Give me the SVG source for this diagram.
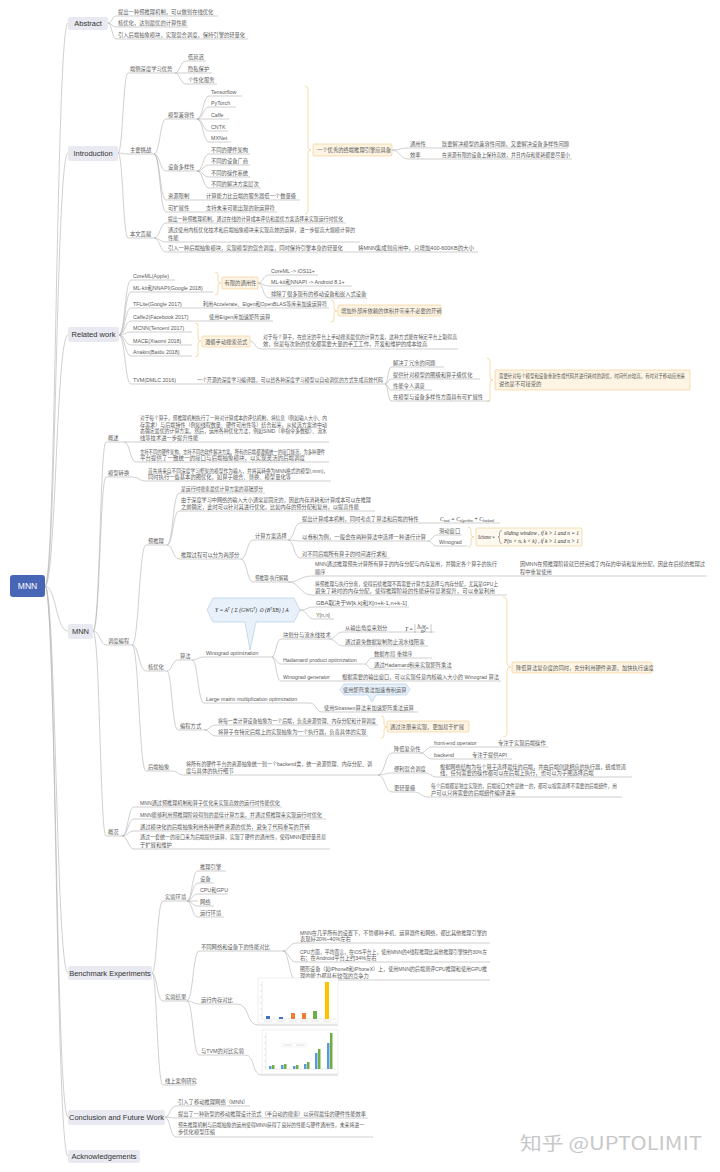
<svg xmlns="http://www.w3.org/2000/svg" width="720" height="1172" viewBox="0 0 720 1172">
<style>
.c{fill:none;stroke:#b0b0b0;stroke-width:0.6}
.u{fill:none;stroke:#b0b0b0;stroke-width:0.6}
.t{font-family:"Liberation Sans","Noto Sans CJK SC",sans-serif;font-size:5.3px;fill:#5a5a5a}
.h{font-family:"Liberation Sans","Noto Sans CJK SC",sans-serif;font-size:7.5px;fill:#333;text-anchor:middle}
.bx{fill:#e9eaf1}
.br{fill:none;stroke:#f0cf8e;stroke-width:0.7}
.co{fill:#fdf4e3;stroke:#f3c986;stroke-width:0.6}
.cb{fill:#e8f1fa;stroke:#a9c6e4;stroke-width:0.6}
.m{font-family:"Liberation Serif",serif;font-size:5.5px;fill:#333;font-style:italic}
.bar{stroke:none}
</style>
<rect width="720" height="1172" fill="#fff"/>

<g id="connectors">
<path class="c" d="M45 586C56 586 56 23 68 23M45 586C56 586 56 153 68 153M45 586C56 586 56 335 68 335M45 586C56 586 56 631 68 631M45 586C56 586 56 973 68 973M45 586C56 586 56 1117 68 1117M45 586C56 586 56 1156 68 1156"/>
<path class="c" d="M108 23C112 23 112 16 116 16M108 23C112 23 112 27 116 27M108 23C112 23 112 39 116 39"/>
<path class="c" d="M118 153C123 153 123 73 128 73M118 153C123 153 123 154 128 154M118 153C123 153 123 238 128 238"/>
<path class="c" d="M175 73C180 73 180 61 186 61M175 73H186M175 73C180 73 180 84 186 84"/>
<path class="c" d="M154 154C160 154 160 119 166 119M154 154C160 154 160 171 166 171M154 154C160 154 160 200 166 200M154 154C160 154 160 212 166 212"/>
<path class="c" d="M197 119C203 119 203 96 209 96M197 119C203 119 203 107 209 107M197 119H209M197 119C203 119 203 131 209 131M197 119C203 119 203 142 209 142"/>
<path class="c" d="M197 171C203 171 203 154 209 154M197 171C203 171 203 165 209 165M197 171C203 171 203 177 209 177M197 171C203 171 203 188 209 188"/>
<path class="c" d="M192 200H204M192 212H204"/>
<path class="c" d="M392 150C400 150 400 148 408 148M392 150C400 150 400 159 408 159M430 148H440M430 159H440"/>
<path class="c" d="M154 238C160 238 160 223 166 223M154 238C160 238 160 242 166 242M154 238C160 238 160 252 166 252M346 252H356"/>
<path class="c" d="M119 335C125 335 125 280 131 280M119 335C125 335 125 292 131 292M119 335C125 335 125 308 131 308M119 335C125 335 125 321 131 321M119 335C125 335 125 332 131 332M119 335C125 335 125 345 131 345M119 335C125 335 125 356 131 356M119 335C125 335 125 384 131 384"/>
<path class="c" d="M258 283C263 283 263 275 269 275M258 283C263 283 263 286 269 286M258 283C263 283 263 298 269 298"/>
<path class="c" d="M191 308H201M195 321H207M250 341C255 341 255 349 261 349M180 384H195"/>
<path class="c" d="M385 384C388 384 388 367 391 367M385 384C388 384 388 379 391 379M385 384C388 384 388 390 391 390M385 384C388 384 388 401 391 401"/>
<path class="c" d="M93 631C100 631 100 442 106 442M93 631C100 631 100 477 106 477M93 631C100 631 100 645 106 645M93 631C100 631 100 836 106 836"/>
<path class="c" d="M124 442H136M124 442C130 442 130 462 136 462M132 477C139 477 139 481 146 481"/>
<path class="c" d="M132 645C139 645 139 545 146 545M132 645C139 645 139 671 146 671M132 645C139 645 139 771 146 771"/>
<path class="c" d="M167 545C173 545 173 493 179 493M167 545C173 545 173 511 179 511M167 545C173 545 173 559 179 559"/>
<path class="c" d="M241 559C247 559 247 540 253 540M241 559C247 559 247 582 253 582"/>
<path class="c" d="M288 540C294 540 294 523 300 523M288 540C294 540 294 541 300 541M288 540C294 540 294 558 300 558"/>
<path class="c" d="M428 541C432 541 432 535 437 535M428 541C432 541 432 546 437 546"/>
<path class="c" d="M288 582C300 582 300 576 312 576M288 582C300 582 300 595 312 595M505 576H515"/>
<path class="c" d="M167 671C172 671 172 660 178 660M167 671C172 671 172 730 178 730"/>
<path class="c" d="M192 660C198 660 198 657 204 657M192 660C198 660 198 703 204 703"/>
<path class="c" d="M300 610C307 610 307 607 314 607M300 610C307 610 307 619 314 619"/>
<path class="c" d="M272 657C276 657 276 639 281 639M272 657C276 657 276 664 281 664M272 657C276 657 276 681 281 681"/>
<path class="c" d="M329 639C336 639 336 632 343 632M329 639C336 639 336 646 343 646"/>
<path class="c" d="M365 664C368 664 368 658 372 658M365 664C368 664 368 669 372 669M329 681H340"/>
<path class="c" d="M310 703C316 703 316 712 322 712"/>
<path class="c" d="M204 730C210 730 210 725 216 725M204 730C210 730 210 736 216 736"/>
<path class="c" d="M172 771C178 771 178 775 184 775"/>
<path class="c" d="M378 775C385 775 385 753 392 753M378 775C385 775 385 773 392 773M378 775C385 775 385 792 392 792"/>
<path class="c" d="M420 753C426 753 426 747 432 747M420 753C426 753 426 759 432 759M484 747H496M458 759H470M425 773C431 773 431 777 437 777M414 792C421 792 421 797 428 797"/>
<path class="c" d="M122 836C128 836 128 807 134 807M122 836C128 836 128 819 134 819M122 836C128 836 128 831 134 831M122 836C128 836 128 849 134 849"/>
<path class="c" d="M152 973C157 973 157 901 163 901M152 973C157 973 157 1001 163 1001M152 973C157 973 157 1085 163 1085"/>
<path class="c" d="M187 901C192 901 192 871 198 871M187 901C192 901 192 883 198 883M187 901C192 901 192 894 198 894M187 901H198M187 901C192 901 192 906 198 906M187 901C192 901 192 917 198 917"/>
<path class="c" d="M187 1001C193 1001 193 951 199 951M187 1001C193 1001 193 1004 199 1004M187 1001C193 1001 193 1055 199 1055"/>
<path class="c" d="M283 951C289 951 289 943 296 943M283 951C289 951 289 962 296 962M283 951C289 951 289 980 296 980"/>
<path class="c" d="M237 1004C250 1004 246 1025 258 1025H338M245 1055C256 1055 251 1075 262 1075H338"/>
<path class="c" d="M165 1117C170 1117 170 1106 176 1106M165 1117C170 1117 170 1118 176 1118M165 1117C170 1117 170 1137 176 1137"/>
<path class="br" d="M305 86Q308 86 308 90V147Q308 150 311 150Q308 150 308 153V210Q308 214 305 214"/>
<path class="br" d="M215 272Q218 272 218 275V280Q218 283 221 283Q218 283 218 286V292Q218 295 215 295"/>
<path class="br" d="M331 300Q334 300 334 303V308Q334 311 337 311Q334 311 334 314V319Q334 322 331 322"/>
<path class="br" d="M195 323Q198 323 198 326V338Q198 341 201 341Q198 341 198 344V354Q198 357 195 357"/>
<path class="br" d="M487 358Q490 358 490 362V377Q490 380 493 380Q490 380 490 383V398Q490 402 487 402"/>
<path class="br" d="M468 527Q471 527 471 530V534Q471 537 474 537Q471 537 471 540V544Q471 547 468 547"/>
<path class="br" d="M381 716Q384 716 384 719V724Q384 727 387 727Q384 727 384 730V735Q384 738 381 738"/>
<path class="br" d="M503 597Q507 597 507 602V663Q507 667 511 667Q507 667 507 671V732Q507 737 503 737"/>
</g>

<g id="root"><rect x="10" y="575" width="35" height="22" rx="3" fill="#4766b5"/><text x="27.5" y="589" text-anchor="middle" font-family="Liberation Sans" font-size="8.5" fill="#fff">MNN</text></g>

<g id="abstract"><rect class="bx" x="68" y="17" width="40" height="13" rx="2"/><text class="h" x="88" y="26.2">Abstract</text></g>
<g id="abs-1"><path class="u" d="M116 16H218"/><text class="t" x="118" y="14">提出一种预推理机制，可以做到在线优化</text></g>
<g id="abs-2"><path class="u" d="M116 27H188"/><text class="t" x="118" y="25">核优化，达到最优的计算性能</text></g>
<g id="abs-3"><path class="u" d="M116 39H248"/><text class="t" x="118" y="37">引入后端抽象模块，实现混合调度，保持引擎的轻量化</text></g>

<g id="introduction"><rect class="bx" x="68" y="146" width="50" height="15" rx="2"/><text class="h" x="93" y="156.2">Introduction</text></g>
<g id="intro-adv"><path class="u" d="M128 73H175"/><text class="t" x="130" y="71">端侧深度学习优势</text></g>
<g id="adv-1"><path class="u" d="M186 61H206"/><text class="t" x="188" y="59">低延迟</text></g>
<g id="adv-2"><path class="u" d="M186 73H212"/><text class="t" x="188" y="71">隐私保护</text></g>
<g id="adv-3"><path class="u" d="M186 84H217"/><text class="t" x="188" y="82">个性化服务</text></g>
<g id="intro-ch"><path class="u" d="M128 154H154"/><text class="t" x="130" y="152">主要挑战</text></g>
<g id="compat"><path class="u" d="M166 119H197"/><text class="t" x="168" y="117">模型兼容性</text></g>
<g id="tf"><path class="u" d="M209 96H242"/><text class="t" x="211" y="94">Tensorflow</text></g>
<g id="pt"><path class="u" d="M209 107H236"/><text class="t" x="211" y="105">PyTorch</text></g>
<g id="caffe"><path class="u" d="M209 119H229"/><text class="t" x="211" y="117">Caffe</text></g>
<g id="cntk"><path class="u" d="M209 131H228"/><text class="t" x="211" y="129">CNTK</text></g>
<g id="mxnet"><path class="u" d="M209 142H231"/><text class="t" x="211" y="140">MXNet</text></g>
<g id="diversity"><path class="u" d="M166 171H197"/><text class="t" x="168" y="169">设备多样性</text></g>
<g id="div-1"><path class="u" d="M209 154H250"/><text class="t" x="211" y="152">不同的硬件架构</text></g>
<g id="div-2"><path class="u" d="M209 165H250"/><text class="t" x="211" y="163">不同的设备厂商</text></g>
<g id="div-3"><path class="u" d="M209 177H250"/><text class="t" x="211" y="175">不同的操作系统</text></g>
<g id="div-4"><path class="u" d="M209 188H261"/><text class="t" x="211" y="186">不同的解决方案层次</text></g>
<g id="resource"><path class="u" d="M166 200H192"/><text class="t" x="168" y="198">资源限制</text></g>
<g id="resource-d"><path class="u" d="M204 200H300"/><text class="t" x="206" y="198">计算能力比云端的服务器低一个数量级</text></g>
<g id="extend"><path class="u" d="M166 212H192"/><text class="t" x="168" y="210">可扩展性</text></g>
<g id="extend-d"><path class="u" d="M204 212H277"/><text class="t" x="206" y="210">支持未来可能出现的新运算符</text></g>
<g id="intro-callout"><rect class="co" x="313" y="144" width="79" height="12" rx="1"/><text class="t" x="317" y="152">一个优秀的终端推理引擎应具备</text></g>
<g id="generality"><path class="u" d="M408 148H430"/><text class="t" x="410" y="146">通用性</text></g>
<g id="generality-d"><path class="u" d="M440 148H568"/><text class="t" x="442" y="146">既要解决模型的兼容性问题，又要解决设备多样性问题</text></g>
<g id="efficiency"><path class="u" d="M408 159H430"/><text class="t" x="410" y="157">效率</text></g>
<g id="efficiency-d"><path class="u" d="M440 159H572"/><text class="t" x="442" y="157" textLength="128" lengthAdjust="spacingAndGlyphs">在资源有限的设备上保持高效，并且内存和能耗都要尽量小</text></g>
<g id="intro-con"><path class="u" d="M128 238H154"/><text class="t" x="130" y="236">本文贡献</text></g>
<g id="con-1"><path class="u" d="M166 223H346"/><text class="t" x="168" y="221" textLength="175" lengthAdjust="spacingAndGlyphs">提出一种预推理机制，通过在线的计算成本评估和最优方案选择来实现运行时优化</text></g>
<g id="con-2"><path class="u" d="M166 242H360"/><text class="t" x="168" y="232" textLength="187" lengthAdjust="spacingAndGlyphs">通过使用内核优化技术和后端抽象模块来实现高效的运算，进一步提高大规模计算的</text><text class="t" x="168" y="240">性能</text></g>
<g id="con-3"><path class="u" d="M166 252H346"/><text class="t" x="168" y="250">引入一种后端抽象模块，实现模型的混合调度，同时保持引擎本身的轻量化</text></g>
<g id="con-3-d"><path class="u" d="M356 252H478"/><text class="t" x="358" y="250" textLength="116" lengthAdjust="spacingAndGlyphs">将MNN集成到应用中，只增加400-600KB的大小</text></g>

<g id="related"><rect class="bx" x="68" y="327" width="51" height="15" rx="2"/><text class="h" x="93.5" y="337.2">Related work</text></g>
<g id="rw-coreml"><path class="u" d="M131 280H175"/><text class="t" x="133" y="278">CoreML(Apple)</text></g>
<g id="rw-mlkit"><path class="u" d="M131 292H213"/><text class="t" x="133" y="290">ML-kit和NNAPI(Google 2018)</text></g>
<g id="rw-limit"><rect class="co" x="222" y="277" width="36" height="12" rx="1"/><text class="t" x="224.5" y="285">有限的通用性</text></g>
<g id="lim-1"><path class="u" d="M269 275H318"/><text class="t" x="271" y="273">CoreML -&gt; iOS11+</text></g>
<g id="lim-2"><path class="u" d="M269 286H352"/><text class="t" x="271" y="284">ML-kit和NNAPI -&gt; Android 8.1+</text></g>
<g id="lim-3"><path class="u" d="M269 298H367"/><text class="t" x="271" y="296">排除了很多现有的移动设备和嵌入式设备</text></g>
<g id="rw-tflite"><path class="u" d="M131 308H191"/><text class="t" x="133" y="306">TFLite(Google 2017)</text></g>
<g id="rw-tflite-d"><path class="u" d="M201 308H329"/><text class="t" x="203" y="306" textLength="124" lengthAdjust="spacingAndGlyphs">利用Accelerate、Eigen和OpenBLAS等库来加速运算符</text></g>
<g id="rw-caffe2"><path class="u" d="M131 321H195"/><text class="t" x="133" y="319">Caffe2(Facebook 2017)</text></g>
<g id="rw-caffe2-d"><path class="u" d="M207 321H273"/><text class="t" x="209" y="319">使用Eigen库加速矩阵运算</text></g>
<g id="rw-extlib"><rect class="co" x="338" y="305" width="103" height="11" rx="1"/><text class="t" x="341" y="312.6">增加外部库依赖的体积并带来不必要的开销</text></g>
<g id="rw-mcnn"><path class="u" d="M131 332H192"/><text class="t" x="133" y="330">MCNN(Tencent 2017)</text></g>
<g id="rw-mace"><path class="u" d="M131 345H192"/><text class="t" x="133" y="343">MACE(Xiaomi 2018)</text></g>
<g id="rw-anakin"><path class="u" d="M131 356H192"/><text class="t" x="133" y="354">Anakin(Baidu 2018)</text></g>
<g id="rw-manual"><rect class="co" x="202" y="336" width="48" height="11" rx="1"/><text class="t" x="205" y="343.6">遵循手动搜索范式</text></g>
<g id="rw-manual-d"><path class="u" d="M261 349H458"/><text class="t" x="263" y="339" textLength="194" lengthAdjust="spacingAndGlyphs">对于每个算子，在给定的平台上手动搜索最优的计算方案，这种方式能在特定平台上取得高</text><text class="t" x="263" y="346">效，但是每次新的优化都需要大量的手工工作，开发和维护的成本较高</text></g>
<g id="rw-tvm"><path class="u" d="M131 384H180"/><text class="t" x="133" y="382">TVM(DMLC 2016)</text></g>
<g id="rw-tvm-d"><path class="u" d="M195 384H385"/><text class="t" x="197" y="382" textLength="186" lengthAdjust="spacingAndGlyphs">一个开源的深度学习编译器，可以给各种深度学习模型以自动调优的方式生成高效代码</text></g>
<g id="tvm-1"><path class="u" d="M391 367H444"/><text class="t" x="393" y="365">解决了冗余的问题</text></g>
<g id="tvm-2"><path class="u" d="M391 379H480"/><text class="t" x="393" y="377">提供针对模型的图级和算子级优化</text></g>
<g id="tvm-3"><path class="u" d="M391 390H432"/><text class="t" x="393" y="388">性能令人满意</text></g>
<g id="tvm-4"><path class="u" d="M391 401H490"/><text class="t" x="393" y="399">在模型与设备多样性方面具有可扩展性</text></g>
<g id="tvm-callout"><rect class="co" x="495" y="370" width="195" height="20" rx="1"/><text class="t" x="499" y="377.5" textLength="186" lengthAdjust="spacingAndGlyphs">需要针对每个模型和设备重新生成代码并进行耗时的调优，时间代价较高，有时对于移动应用来</text><text class="t" x="499" y="386">说也是不可接受的</text></g>

<g id="mnn"><rect class="bx" x="68" y="624" width="25" height="15" rx="2"/><text class="h" x="80.5" y="634.2">MNN</text></g>
<g id="overview"><path class="u" d="M106 442H124"/><text class="t" x="108" y="440">概述</text></g>
<g id="overview-1"><path class="u" d="M136 442H329"/><text class="t" x="140" y="420" textLength="187" lengthAdjust="spacingAndGlyphs">对于每个算子，预推理机制执行了一种对计算成本的评估机制，将信息（例如输入大小、内</text><text class="t" x="140" y="427" textLength="187" lengthAdjust="spacingAndGlyphs">存需求）与后端特性（例如线程数量、硬件可用性等）结合起来，从候选方案池中动</text><text class="t" x="140" y="433" textLength="187" lengthAdjust="spacingAndGlyphs">态确定最优的计算方案。然后，运用各种优化方法，例如SIMD（单指令多数据）、流水</text><text class="t" x="140" y="440">线等技术进一步提升性能</text></g>
<g id="overview-2"><path class="u" d="M136 462H329"/><text class="t" x="140" y="454" textLength="185" lengthAdjust="spacingAndGlyphs">支持不同的硬件架构，支持不同的软件解决方案。所有的后端都遵循统一的接口规范，为多种硬件</text><text class="t" x="140" y="460" textLength="165" lengthAdjust="spacingAndGlyphs">平台提供了一致统一的接口与后端抽象模块，以实现灵活的后端调度</text></g>
<g id="convert"><path class="u" d="M106 477H132"/><text class="t" x="108" y="475">模型转换</text></g>
<g id="convert-d"><path class="u" d="M146 481H331"/><text class="t" x="148" y="473" textLength="180" lengthAdjust="spacingAndGlyphs">首先将来自不同深度学习框架的模型作为输入，并将其转换为MNN格式的模型(.mnn)，</text><text class="t" x="148" y="479">同时执行一些基本的图优化，如算子融合、替换、模型量化等</text></g>
<g id="engine"><path class="u" d="M106 645H132"/><text class="t" x="108" y="643">调度编程</text></g>
<g id="preinfer"><path class="u" d="M146 545H167"/><text class="t" x="148" y="543">预推理</text></g>
<g id="pre-1"><path class="u" d="M179 493H265"/><text class="t" x="181" y="491" textLength="82" lengthAdjust="spacingAndGlyphs">是运行时搜索最优计算方案的基础部分</text></g>
<g id="pre-2"><path class="u" d="M179 511H375"/><text class="t" x="181" y="502" textLength="190" lengthAdjust="spacingAndGlyphs">由于深度学习中网络的输入大小通常是固定的，因此内存消耗和计算成本可以在推理</text><text class="t" x="181" y="509" textLength="178" lengthAdjust="spacingAndGlyphs">之前确定，此时可以针对其进行优化，比如内存的预分配和复用，以提高性能</text></g>
<g id="pre-3"><path class="u" d="M179 559H241"/><text class="t" x="181" y="557">推理过程可以分为两部分</text></g>
<g id="scheme-select"><path class="u" d="M253 540H288"/><text class="t" x="255" y="538">计算方案选择</text></g>
<g id="cost"><path class="u" d="M300 523H500"/><text class="t" x="302" y="521">提出计算成本机制，同时考虑了算法和后端的特性</text><text class="m" x="440" y="521">C<tspan font-size="3.3" dy="1">total</tspan><tspan dy="-1"> = C</tspan><tspan font-size="3.3" dy="1">algorithm</tspan><tspan dy="-1"> + C</tspan><tspan font-size="3.3" dy="1">backend</tspan></text></g>
<g id="conv"><path class="u" d="M300 541H428"/><text class="t" x="302" y="539" textLength="124" lengthAdjust="spacingAndGlyphs">以卷积为例，一般会在两种算法中选择一种进行计算</text></g>
<g id="sliding"><path class="u" d="M437 535H462"/><text class="t" x="439" y="533">滑动窗口</text></g>
<g id="winograd-alg"><path class="u" d="M437 546H467"/><text class="t" x="439" y="544">Winograd</text></g>
<g id="scheme-formula"><rect x="476" y="528" width="106" height="18" rx="1" fill="#fdf9ef" stroke="#f3c986" stroke-width="0.6"/><text class="m" x="478" y="539" font-size="4.4" textLength="17" lengthAdjust="spacingAndGlyphs">Scheme =</text><path d="M502 530.5Q499.5 530.5 499.5 533V535.5Q499.5 537 498 537Q499.5 537 499.5 538.5V541Q499.5 543.5 502 543.5" fill="none" stroke="#333" stroke-width="0.4"/><text class="m" x="504" y="535" font-size="3.8" textLength="75" lengthAdjust="spacingAndGlyphs">sliding window ,      if k &gt; 1 and n = 1</text><text class="m" x="504" y="542.5" font-size="3.8" textLength="75" lengthAdjust="spacingAndGlyphs">F(n × n, k × k) ,     if k &gt; 1 and n &gt; 1</text></g>
<g id="sum"><path class="u" d="M300 558H390"/><text class="t" x="302" y="556">对不同后端所有算子的时间进行求和</text></g>
<g id="decouple"><path class="u" d="M253 582H288"/><text class="t" x="255" y="580" textLength="33" lengthAdjust="spacingAndGlyphs">预推理-执行解耦</text></g>
<g id="dec-1"><path class="u" d="M312 576H505"/><text class="t" x="315" y="566" textLength="182" lengthAdjust="spacingAndGlyphs">MNN通过推理预先计算所有算子的内存分配与内存复用，并确定各个算子的执行</text><text class="t" x="315" y="574">顺序</text></g>
<g id="dec-1-d"><path class="u" d="M515 576H707"/><text class="t" x="520" y="566" textLength="185" lengthAdjust="spacingAndGlyphs">因MNN在预推理阶段就已经完成了内存的申请和复用分配，因此在后续的推理过</text><text class="t" x="520" y="574">程中重复使用</text></g>
<g id="dec-2"><path class="u" d="M312 595H507"/><text class="t" x="315" y="586" textLength="183" lengthAdjust="spacingAndGlyphs">将预推理与执行分离，使得后续推理不再需要计算方案选择与内存分配，尤其是GPU上</text><text class="t" x="315" y="593" textLength="180" lengthAdjust="spacingAndGlyphs">避免了耗时的内存分配，使得推理阶段的性能获得显著提升，可以重复利用</text></g>
<g id="kernel"><path class="u" d="M146 671H167"/><text class="t" x="148" y="669">核优化</text></g>
<g id="algorithm"><path class="u" d="M178 660H192"/><text class="t" x="180" y="658">算法</text></g>
<g id="wino-opt"><path class="u" d="M204 657H272"/><text class="t" x="206" y="655">Winograd optimization</text></g>
<g id="wino-formula"><path class="cb" d="M213 598H294L300 610L294 622H256L250 650L245 622H213L207 610Z"/><text class="m" x="215" y="612">Y = A<tspan font-size="3.3" dy="-2">T</tspan><tspan dy="2"> [ Σ (GWG</tspan><tspan font-size="3.3" dy="-2">T</tspan><tspan dy="2">) ⊙ (B</tspan><tspan font-size="3.3" dy="-2">T</tspan><tspan dy="2">XB) ] A</tspan></text></g>
<g id="wino-gba"><path class="u" d="M314 607H409"/><text class="t" x="316" y="605" textLength="91" lengthAdjust="spacingAndGlyphs">GBA取决于W[k,k]和X[n+k-1,n+k-1]</text></g>
<g id="wino-y"><path class="u" d="M314 619H334"/><text class="t" x="316" y="617">Y[n,n]</text></g>
<g id="tiling"><path class="u" d="M281 639H329"/><text class="t" x="283" y="637">块划分与流水线技术</text></g>
<g id="tile-1"><path class="u" d="M343 632H435"/><text class="t" x="345" y="630">从输出角度来划分</text><text class="m" x="405" y="631">T =</text><path d="M415 624V633M431 624V633M417 628.5H429" stroke="#777" stroke-width="0.4"/><text class="m" x="417.5" y="627.5" font-size="3.4">h<tspan font-size="2.4">O</tspan>w<tspan font-size="2.4">O</tspan></text><text class="m" x="421" y="632.5" font-size="3.4">n²</text></g>
<g id="tile-2"><path class="u" d="M343 646H428"/><text class="t" x="345" y="644">通过避免数据复制防止流水线阻塞</text></g>
<g id="hadamard"><path class="u" d="M281 664H365"/><text class="t" x="283" y="662">Hadamard product optimization</text></g>
<g id="had-1"><path class="u" d="M372 658H432"/><text class="t" x="374" y="656">数据布局 重排序</text></g>
<g id="had-2"><path class="u" d="M372 669H452"/><text class="t" x="374" y="667">通过Hadamard积来实现矩阵乘法</text></g>
<g id="wino-gen"><path class="u" d="M281 681H329"/><text class="t" x="283" y="679">Winograd generator</text></g>
<g id="wino-gen-d"><path class="u" d="M340 681H501"/><text class="t" x="342" y="679" textLength="157" lengthAdjust="spacingAndGlyphs">根据需要的输出窗口，可以实现任意内核输入大小的 Winograd 算法</text></g>
<g id="large-mm"><path class="u" d="M204 703H310"/><text class="t" x="206" y="701">Large matrix multiplication optimization</text></g>
<g id="mm-callout"><path class="cb" d="M344 684H406L410 689.5L406 695H376L372 702L368 695H344L340 689.5Z"/><text class="t" x="343" y="691.5">使用矩阵乘法加速卷积运算</text></g>
<g id="strassen"><path class="u" d="M322 712H418"/><text class="t" x="324" y="710">使用Strassen算法来加速矩阵乘法运算</text></g>
<g id="program"><path class="u" d="M178 730H204"/><text class="t" x="180" y="728">编程方式</text></g>
<g id="prog-1"><path class="u" d="M216 725H378"/><text class="t" x="218" y="723" textLength="158" lengthAdjust="spacingAndGlyphs">将每一类计算设备抽象为一个后端，负责资源管理、内存分配和计算调度</text></g>
<g id="prog-2"><path class="u" d="M216 736H368"/><text class="t" x="218" y="734">将算子在特定后端上的实现抽象为一个执行器，负责具体的实现</text></g>
<g id="prog-callout"><rect class="co" x="387" y="721" width="82" height="11" rx="1"/><text class="t" x="390" y="728.6">通过注册来实现，更加易于扩展</text></g>
<g id="kernel-callout"><rect class="co" x="512" y="662" width="140" height="11" rx="1"/><text class="t" x="516" y="669.6">降低算法复杂度的同时，充分利用硬件资源，加快执行速度</text></g>
<g id="backend"><path class="u" d="M146 771H172"/><text class="t" x="148" y="769">后端抽象</text></g>
<g id="backend-d"><path class="u" d="M184 775H378"/><text class="t" x="186" y="766" textLength="186" lengthAdjust="spacingAndGlyphs">将所有的硬件平台的资源抽象统一到一个backend类，统一资源管理、内存分配、调</text><text class="t" x="186" y="773">度与具体的执行细节</text></g>
<g id="reduce"><path class="u" d="M392 753H420"/><text class="t" x="394" y="751">降低复杂性</text></g>
<g id="frontend-op"><path class="u" d="M432 747H484"/><text class="t" x="434" y="745">front-end operator</text></g>
<g id="frontend-op-d"><path class="u" d="M496 747H548"/><text class="t" x="498" y="745">专注于实现后端操作</text></g>
<g id="backend-api"><path class="u" d="M432 759H458"/><text class="t" x="434" y="757">backend</text></g>
<g id="backend-api-d"><path class="u" d="M470 759H512"/><text class="t" x="472" y="757">专注于提供API</text></g>
<g id="hybrid"><path class="u" d="M392 773H425"/><text class="t" x="394" y="771">便利混合调度</text></g>
<g id="hybrid-d"><path class="u" d="M437 777H632"/><text class="t" x="440" y="769" textLength="186" lengthAdjust="spacingAndGlyphs">根据网络结构为每个算子选择最佳的后端，并由后端创建相应的执行器，组成管道</text><text class="t" x="440" y="775">线，任何需要的操作都可以在后端上执行，也可以为子图选择后端</text></g>
<g id="light"><path class="u" d="M392 792H414"/><text class="t" x="394" y="790">更轻量级</text></g>
<g id="light-d"><path class="u" d="M428 797H622"/><text class="t" x="431" y="788" textLength="186" lengthAdjust="spacingAndGlyphs">每个后端都是独立实现的，后端接口文件是统一的，都可以按需选择不需要的后端组件，用</text><text class="t" x="431" y="795">户可以只将需要的后端组件编译进来</text></g>
<g id="summary"><path class="u" d="M106 836H122"/><text class="t" x="108" y="834">概况</text></g>
<g id="sum-1"><path class="u" d="M134 807H282"/><text class="t" x="140" y="805" textLength="140" lengthAdjust="spacingAndGlyphs">MNN通过预推理机制和算子优化来实现高效的运行时性能优化</text></g>
<g id="sum-2"><path class="u" d="M134 819H326"/><text class="t" x="140" y="817" textLength="182" lengthAdjust="spacingAndGlyphs">MNN能够利用预推理阶段得到的最佳计算方案，并通过预推理来实现运行时优化</text></g>
<g id="sum-3"><path class="u" d="M134 831H306"/><text class="t" x="140" y="829">通过模块化的后端抽象利用各种硬件资源的优势，避免了代码重写的开销</text></g>
<g id="sum-4"><path class="u" d="M134 849H330"/><text class="t" x="140" y="839" textLength="186" lengthAdjust="spacingAndGlyphs">通过一套统一的接口来为后端提供运算，实现了硬件的通用性，使得MNN更轻量且易</text><text class="t" x="140" y="847">于扩展和维护</text></g>

<g id="benchmark"><rect class="bx" x="68" y="966" width="84" height="14" rx="2"/><text class="h" x="110" y="975.6">Benchmark Experiments</text></g>
<g id="env"><path class="u" d="M163 901H187"/><text class="t" x="165" y="899">实验环境</text></g>
<g id="env-1"><path class="u" d="M198 871H226"/><text class="t" x="200" y="869">推理引擎</text></g>
<g id="env-2"><path class="u" d="M198 883H214"/><text class="t" x="200" y="881">设备</text></g>
<g id="env-3"><path class="u" d="M198 894H228"/><text class="t" x="200" y="892">CPU和GPU</text></g>
<g id="env-4"><path class="u" d="M198 906H214"/><text class="t" x="200" y="904">网络</text></g>
<g id="env-5"><path class="u" d="M198 917H224"/><text class="t" x="200" y="915">运行环境</text></g>
<g id="results"><path class="u" d="M163 1001H187"/><text class="t" x="165" y="999">实验结果</text></g>
<g id="perf"><path class="u" d="M199 951H283"/><text class="t" x="201" y="949">不同网络和设备下的性能对比</text></g>
<g id="perf-1"><path class="u" d="M296 943H490"/><text class="t" x="300" y="935" textLength="187" lengthAdjust="spacingAndGlyphs">MNN在几乎所有的设置下，不管哪种手机、运算器件和网络，都比其他推理引擎的</text><text class="t" x="300" y="941">表现好20%~40%左右</text></g>
<g id="perf-2"><path class="u" d="M296 962H490"/><text class="t" x="300" y="954" textLength="187" lengthAdjust="spacingAndGlyphs">CPU方面，平均而言，在iOS平台上，使用MNN的4线程推理比其他推理引擎快约30%左</text><text class="t" x="300" y="960">右；在Android平台上约34%左右</text></g>
<g id="perf-3"><path class="u" d="M296 980H490"/><text class="t" x="300" y="971" textLength="187" lengthAdjust="spacingAndGlyphs">图形设备（如iPhone8和iPhoneX）上，使用MNN的后端测评CPU推理和使用GPU推</text><text class="t" x="300" y="978">理的能力都具有较强的竞争力</text></g>
<g id="memory"><path class="u" d="M199 1004H237"/><text class="t" x="201" y="1002">运行内存对比</text></g>
<g id="memory-chart"><rect x="258" y="978" width="80" height="45" fill="#fff" stroke="#ddd" stroke-width="0.5"/><path d="M262 981V1019H336" stroke="#ccc" stroke-width="0.4" fill="none"/><path d="M260 985H262M260 991H262M260 997H262M260 1003H262M260 1009H262M260 1015H262" stroke="#bbb" stroke-width="0.4"/><rect class="bar" x="266" y="1016" width="4" height="3" fill="#4472c4"/><rect class="bar" x="279" y="1017" width="4" height="2" fill="#4472c4"/><rect class="bar" x="291" y="1013" width="4" height="6" fill="#ed7d31"/><rect class="bar" x="302" y="1013" width="4" height="6" fill="#ed7d31"/><rect class="bar" x="313" y="1011" width="4" height="8" fill="#70ad47"/><rect class="bar" x="325" y="982" width="4" height="37" fill="#ffc000"/><path d="M264 1021H272M277 1021H285M289 1021H297M300 1021H308M311 1021H319M323 1021H331" stroke="#ccc" stroke-width="0.6"/></g>
<g id="tvm-exp"><path class="u" d="M199 1055H245"/><text class="t" x="201" y="1053">与TVM的对比实验</text></g>
<g id="tvm-chart"><rect x="262" y="1030" width="76" height="44" fill="#fff" stroke="#ddd" stroke-width="0.5"/><path d="M266 1033V1069H336" stroke="#ccc" stroke-width="0.4" fill="none"/><path d="M264 1037H266M264 1043H266M264 1049H266M264 1055H266M264 1061H266M264 1067H266" stroke="#bbb" stroke-width="0.4"/><rect x="282" y="1043" width="25" height="4" fill="#fff" stroke="#ddd" stroke-width="0.3"/><path d="M284 1045H292M296 1045H305" stroke="#bbb" stroke-width="0.5"/><rect class="bar" x="269" y="1066" width="2.5" height="3" fill="#5b9bd5"/><rect class="bar" x="272" y="1065" width="2.5" height="4" fill="#70ad47"/><rect class="bar" x="281" y="1065" width="2.5" height="4" fill="#5b9bd5"/><rect class="bar" x="284" y="1064" width="2.5" height="5" fill="#70ad47"/><rect class="bar" x="293" y="1066" width="2.5" height="3" fill="#5b9bd5"/><rect class="bar" x="296" y="1065" width="2.5" height="4" fill="#70ad47"/><rect class="bar" x="304" y="1064" width="2.5" height="5" fill="#5b9bd5"/><rect class="bar" x="307" y="1062" width="2.5" height="7" fill="#70ad47"/><rect class="bar" x="315" y="1053" width="2.5" height="16" fill="#5b9bd5"/><rect class="bar" x="318" y="1049" width="2.5" height="20" fill="#70ad47"/><rect class="bar" x="327" y="1043" width="2.5" height="26" fill="#5b9bd5"/><rect class="bar" x="330" y="1033" width="2.5" height="36" fill="#70ad47"/></g>
<g id="case"><path class="u" d="M163 1085H196"/><text class="t" x="165" y="1083">线上案例研究</text></g>

<g id="conclusion"><rect class="bx" x="68" y="1110" width="97" height="15" rx="2"/><text class="h" x="116.5" y="1120.2">Conclusion and Future Work</text></g>
<g id="conc-1"><path class="u" d="M176 1106H250"/><text class="t" x="178" y="1104">引入了移动推理网络（MNN）</text></g>
<g id="conc-2"><path class="u" d="M176 1118H368"/><text class="t" x="178" y="1116" textLength="188" lengthAdjust="spacingAndGlyphs">提出了一种新型的移动推理设计范式（半自动的搜索）以获得最佳的硬件性能效率</text></g>
<g id="conc-3"><path class="u" d="M176 1137H373"/><text class="t" x="178" y="1127" textLength="186" lengthAdjust="spacingAndGlyphs">预先推理机制与后端抽象的运用使得MNN获得了良好的性能与硬件通用性，未来将进一</text><text class="t" x="178" y="1134">步优化模型压缩</text></g>

<g id="ack"><rect class="bx" x="68" y="1150" width="72" height="13" rx="2"/><text class="h" x="104" y="1159.2">Acknowledgements</text></g>

<g id="watermark"><text x="520" y="1150" font-family="Noto Sans CJK SC, Liberation Sans, sans-serif" font-size="18" fill="#c8c8c8" textLength="182" lengthAdjust="spacingAndGlyphs">知乎 @UPTOLIMIT</text></g>
</svg>
